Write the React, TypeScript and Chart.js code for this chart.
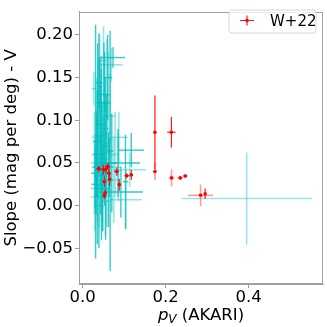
import React, { useEffect, useRef } from "react";
import { Chart, registerables } from "chart.js";

Chart.register(...registerables);

const FONT = "'DejaVu Sans', sans-serif";
const FS = 16.5;

// [x, y, xerr, yerr]
type Row = [number, number, number, number];

const cyanStrongRows: Row[] = [
  [0.031, 0.075, 0.006, 0.137],
  [0.039, 0.076, 0.010, 0.126],
  [0.066, 0.064, 0.008, 0.141],
  [0.073, 0.1735, 0.029, 0.012],
  [0.040, 0.144, 0.008, 0.030],
  [0.054, 0.130, 0.011, 0.020],
  [0.051, 0.121, 0.012, 0.070],
  [0.042, 0.082, 0.014, 0.060],
  [0.117, 0.065, 0.031, 0.020],
  [0.085, 0.050, 0.053, 0.040],
  [0.048, 0.020, 0.018, 0.050],
  [0.092, 0.016, 0.053, 0.030],
  [0.103, 0.028, 0.006, 0.055],
  [0.035, 0.045, 0.012, 0.090],
  [0.045, 0.060, 0.010, 0.100],
  [0.055, 0.040, 0.008, 0.080],
  [0.062, 0.030, 0.010, 0.055],
  [0.070, 0.050, 0.012, 0.058],
  [0.030, 0.038, 0.010, 0.040],
  [0.044, 0.095, 0.012, 0.080],
  [0.032, 0.025, 0.011, 0.035],
  [0.060, 0.150, 0.010, 0.050],
  [0.036, 0.100, 0.007, 0.090],
  [0.047, 0.050, 0.009, 0.070],
  [0.057, 0.070, 0.008, 0.060],
  [0.033, 0.060, 0.010, 0.050],
  [0.043, 0.035, 0.014, 0.045],
  [0.064, 0.045, 0.011, 0.035],
  [0.053, 0.090, 0.009, 0.090],
];

const cyanLightRows: Row[] = [
  [0.069, 0.165, 0.027, 0.020],
  [0.027, 0.137, 0.006, 0.020],
  [0.066, 0.105, 0.012, 0.050],
  [0.087, 0.080, 0.021, 0.030],
  [0.051, 0.073, 0.016, 0.060],
  [0.113, 0.042, 0.039, 0.020],
  [0.104, 0.007, 0.038, 0.035],
  [0.058, 0.085, 0.010, 0.110],
  [0.048, 0.030, 0.012, 0.060],
  [0.028, 0.050, 0.008, 0.060],
  [0.078, 0.060, 0.009, 0.050],
  [0.086, 0.045, 0.006, 0.040],
  [0.035, 0.010, 0.015, 0.030],
  [0.040, 0.000, 0.012, 0.025],
  [0.037, 0.110, 0.008, 0.060],
  [0.050, 0.170, 0.007, 0.040],
  [0.055, 0.005, 0.013, 0.040],
  [0.041, 0.120, 0.010, 0.080],
  [0.061, 0.120, 0.008, 0.060],
  [0.034, 0.080, 0.012, 0.070],
  [0.049, 0.055, 0.015, 0.050],
  [0.075, 0.030, 0.010, 0.050],
  [0.029, 0.020, 0.010, 0.050],
  [0.395, 0.0083, 0.157, 0.054],
];

const redRows: Row[] = [
  [0.0386, 0.0431, 0.007, 0.004],
  [0.050, 0.042, 0.004, 0.006],
  [0.056, 0.043, 0.004, 0.005],
  [0.061, 0.046, 0.003, 0.004],
  [0.063, 0.038, 0.004, 0.006],
  [0.065, 0.031, 0.003, 0.008],
  [0.052, 0.028, 0.003, 0.006],
  [0.052, 0.0117, 0.002, 0.004],
  [0.054, 0.0147, 0.002, 0.004],
  [0.082, 0.040, 0.006, 0.005],
  [0.088, 0.0246, 0.003, 0.007],
  [0.106, 0.035, 0.006, 0.003],
  [0.117, 0.036, 0.004, 0.006],
  [0.174, 0.086, 0.002, 0.043],
  [0.2137, 0.086, 0.010, 0.018],
  [0.295, 0.014, 0.002, 0.006],
  [0.247, 0.0348, 0.005, 0.002],
];

const redPaleRows: Row[] = [
  [0.174, 0.040, 0.002, 0.010],
  [0.214, 0.0325, 0.007, 0.010],
  [0.235, 0.0325, 0.007, 0.002],
  [0.284, 0.0121, 0.030, 0.0125],
];

const legendLabel = "W+22";
const xTicks = [0, 0.2, 0.4];
const yTicks = [-0.05, 0, 0.05, 0.1, 0.15, 0.2];
const xTitleItalic = "p";
const xTitleSub = "V";
const xTitleRest = " (AKARI)";
const yTitle = "Slope (mag per deg) - V";

const FRAME = "#a0a0a0";

function toPoints(rows: Row[]) {
  return rows.map((r) => ({ x: r[0], y: r[1] }));
}
function toErrors(rows: Row[]) {
  return rows.map((r) => [r[2], r[3]]);
}

const errorBarPlugin = {
  id: "errorBars",
  beforeDatasetsDraw(chart: any) {
    const { ctx, chartArea, scales } = chart;
    const xs = scales.x;
    const ys = scales.y;
    ctx.save();
    ctx.beginPath();
    ctx.rect(chartArea.left, chartArea.top, chartArea.right - chartArea.left, chartArea.bottom - chartArea.top);
    ctx.clip();
    chart.data.datasets.forEach((ds: any) => {
      if (!ds.errors) return;
      ctx.strokeStyle = ds.errColor;
      ctx.lineWidth = ds.errWidth;
      ds.data.forEach((p: any, i: number) => {
        const [xe, ye] = ds.errors[i];
        const px = xs.getPixelForValue(p.x);
        const py = ys.getPixelForValue(p.y);
        ctx.beginPath();
        ctx.moveTo(xs.getPixelForValue(p.x - xe), py);
        ctx.lineTo(xs.getPixelForValue(p.x + xe), py);
        ctx.stroke();
        ctx.beginPath();
        ctx.moveTo(px, ys.getPixelForValue(p.y - ye));
        ctx.lineTo(px, ys.getPixelForValue(p.y + ye));
        ctx.stroke();
      });
    });
    ctx.restore();
  },
};

const framePlugin = {
  id: "frameAndLegend",
  afterDraw(chart: any) {
    const { ctx, chartArea } = chart;
    ctx.save();
    ctx.strokeStyle = FRAME;
    ctx.lineWidth = 1;
    ctx.strokeRect(
      Math.round(chartArea.left) + 0.5,
      Math.round(chartArea.top) + 0.5,
      Math.round(chartArea.right - chartArea.left) - 1,
      Math.round(chartArea.bottom - chartArea.top) - 1
    );

    // legend
    const bx = 229, by = 10, bw = 87, bh = 23, rr = 3;
    ctx.beginPath();
    ctx.moveTo(bx + rr, by);
    ctx.lineTo(bx + bw - rr, by);
    ctx.quadraticCurveTo(bx + bw, by, bx + bw, by + rr);
    ctx.lineTo(bx + bw, by + bh - rr);
    ctx.quadraticCurveTo(bx + bw, by + bh, bx + bw - rr, by + bh);
    ctx.lineTo(bx + rr, by + bh);
    ctx.quadraticCurveTo(bx, by + bh, bx, by + bh - rr);
    ctx.lineTo(bx, by + rr);
    ctx.quadraticCurveTo(bx, by, bx + rr, by);
    ctx.closePath();
    ctx.fillStyle = "rgba(255,255,255,0.8)";
    ctx.fill();
    ctx.strokeStyle = "#d6d6d6";
    ctx.stroke();

    const gx = 247, gy = 20.5;
    ctx.strokeStyle = "rgba(255,0,0,0.9)";
    ctx.lineWidth = 1.2;
    ctx.beginPath();
    ctx.moveTo(240, gy);
    ctx.lineTo(254, gy);
    ctx.moveTo(gx, 15.5);
    ctx.lineTo(gx, 25.5);
    ctx.stroke();
    ctx.fillStyle = "red";
    ctx.beginPath();
    ctx.arc(gx, gy, 1.8, 0, Math.PI * 2);
    ctx.fill();

    ctx.fillStyle = "#000";
    ctx.font = `15px ${FONT}`;
    ctx.textBaseline = "alphabetic";
    ctx.textAlign = "left";
    ctx.fillText(legendLabel, 270, 26);

    // x title with italic p and subscript V
    const fMain = `italic ${FS}px ${FONT}`;
    const fSub = `italic 12px ${FONT}`;
    const fRest = `${FS}px ${FONT}`;
    ctx.font = fMain;
    const w1 = ctx.measureText(xTitleItalic).width;
    ctx.font = fSub;
    const w2 = ctx.measureText(xTitleSub).width;
    ctx.font = fRest;
    const w3 = ctx.measureText(xTitleRest).width;
    const cx = (chartArea.left + chartArea.right) / 2;
    let x0 = cx - (w1 + w2 + w3) / 2;
    const base = 320;
    ctx.font = fMain;
    ctx.fillText(xTitleItalic, x0, base);
    x0 += w1;
    ctx.font = fSub;
    ctx.fillText(xTitleSub, x0, base + 3);
    x0 += w2;
    ctx.font = fRest;
    ctx.fillText(xTitleRest, x0, base);
    ctx.restore();
  },
};

export default function App() {
  const ref = useRef<HTMLCanvasElement | null>(null);

  useEffect(() => {
    if (!ref.current) return;
    const chart = new Chart(ref.current, {
      type: "scatter",
      data: {
        datasets: [
          {
            label: "cyan",
            data: toPoints(cyanStrongRows),
            errors: toErrors(cyanStrongRows),
            errColor: "rgba(0,191,191,0.8)",
            errWidth: 1.4,
            pointRadius: 0,
          } as any,
          {
            label: "cyan-light",
            data: toPoints(cyanLightRows),
            errors: toErrors(cyanLightRows),
            errColor: "rgba(0,191,191,0.4)",
            errWidth: 1.6,
            pointRadius: 0,
          } as any,
          {
            label: "red-pale",
            data: toPoints(redPaleRows),
            errors: toErrors(redPaleRows),
            errColor: "rgba(255,0,0,0.4)",
            errWidth: 1.6,
            pointRadius: 1.8,
            backgroundColor: "red",
            borderWidth: 0,
          } as any,
          {
            label: legendLabel,
            data: toPoints(redRows),
            errors: toErrors(redRows),
            errColor: "rgba(255,0,0,0.9)",
            errWidth: 1.2,
            pointRadius: 1.8,
            backgroundColor: "red",
            borderWidth: 0,
          } as any,
        ],
      },
      options: {
        animation: false,
        responsive: false,
        maintainAspectRatio: false,
        layout: { padding: { top: 3, right: 4, left: 0, bottom: 0 } },
        plugins: {
          legend: { display: false },
          tooltip: { enabled: false },
        },
        scales: {
          x: {
            type: "linear",
            min: -0.009,
            max: 0.579,
            afterFit: (s: any) => {
              s.height = 43;
            },
            afterBuildTicks: (s: any) => {
              s.ticks = xTicks.map((v) => ({ value: v }));
            },
            grid: {
              display: true,
              drawOnChartArea: false,
              drawTicks: true,
              tickLength: 4,
              color: FRAME,
            },
            border: { display: true, color: FRAME },
            ticks: {
              color: "#000",
              font: { family: FONT, size: FS },
              padding: 0,
              maxRotation: 0,
              autoSkip: false,
              callback: (v: any) => Number(v).toFixed(1),
            },
          },
          y: {
            type: "linear",
            min: -0.0918,
            max: 0.227,
            afterFit: (s: any) => {
              s.width = 79;
            },
            afterBuildTicks: (s: any) => {
              s.ticks = yTicks.map((v) => ({ value: v }));
            },
            grid: {
              display: true,
              drawOnChartArea: false,
              drawTicks: true,
              tickLength: 4,
              color: FRAME,
            },
            border: { display: true, color: FRAME },
            title: {
              display: true,
              text: yTitle,
              color: "#000",
              font: { family: FONT, size: FS },
              padding: { top: 2, bottom: 0 },
            },
            ticks: {
              color: "#000",
              font: { family: FONT, size: FS },
              padding: 2,
              autoSkip: false,
              callback: (v: any) => Number(v).toFixed(2).replace("-", "\u2212"),
            },
          },
        },
      } as any,
      plugins: [errorBarPlugin, framePlugin],
    });
    return () => chart.destroy();
  }, []);

  return (
    <div style={{ position: "fixed", left: 0, top: 0, width: 327, height: 327, background: "#fff" }}>
      <canvas ref={ref} width={327} height={327} style={{ width: 327, height: 327, display: "block" }} />
    </div>
  );
}
